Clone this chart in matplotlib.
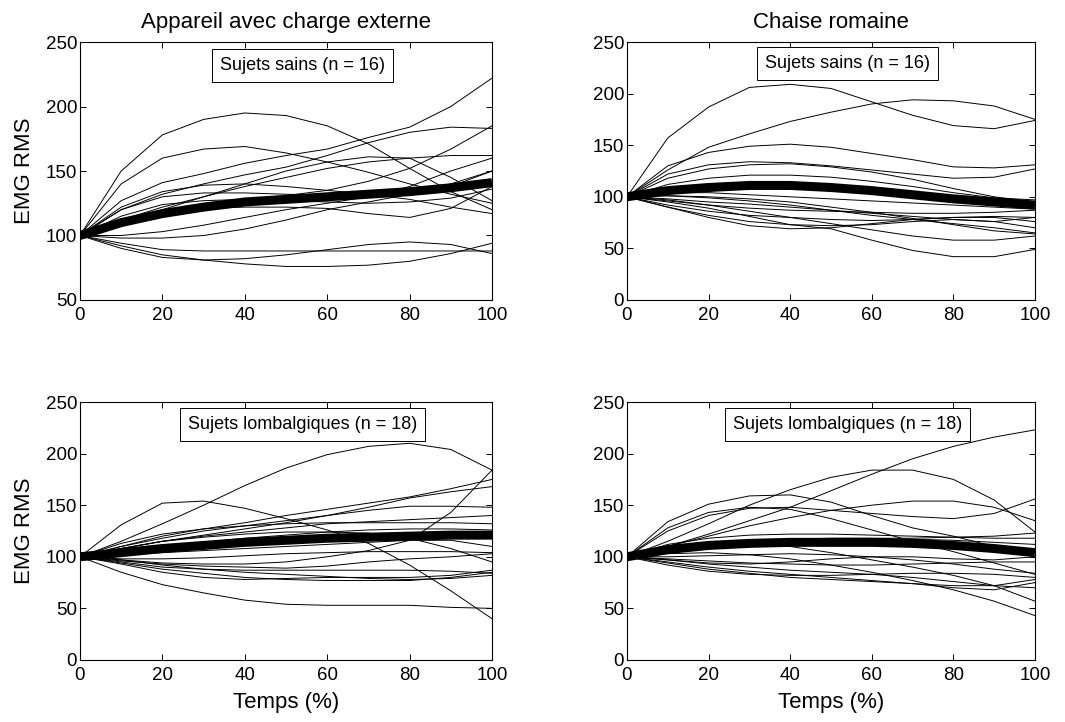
import matplotlib.pyplot as plt

plt.rcParams['font.family'] = ['Liberation Sans', 'DejaVu Sans']

temps = [0, 10, 20, 30, 40, 50, 60, 70, 80, 90, 100]

# appareil avec charge externe, sujets sains
charge_sains = [
    [100, 150, 178, 190, 195, 193, 185, 171, 152, 134, 120],
    [100, 140, 160, 167, 169, 164, 157, 149, 140, 132, 125],
    [100, 127, 141, 148, 156, 162, 167, 176, 184, 200, 222],
    [100, 120, 132, 140, 147, 153, 162, 172, 180, 184, 183],
    [100, 108, 115, 122, 128, 131, 135, 142, 152, 167, 185],
    [100, 112, 122, 130, 138, 145, 152, 157, 160, 162, 162],
    [100, 110, 120, 130, 140, 150, 157, 161, 160, 145, 127],
    [100, 122, 134, 139, 140, 138, 135, 132, 128, 122, 117],
    [100, 120, 130, 133, 133, 132, 131, 130, 132, 138, 150],
    [100, 110, 118, 121, 122, 122, 121, 117, 114, 121, 138],
    [100, 100, 103, 108, 114, 120, 125, 130, 138, 150, 160],
    [100, 98, 98, 100, 105, 112, 120, 126, 132, 140, 150],
    [100, 94, 89, 88, 88, 88, 88, 88, 88, 88, 88],
    [100, 90, 83, 81, 82, 85, 89, 93, 95, 93, 86],
    [100, 92, 85, 81, 78, 76, 76, 77, 80, 86, 94],
    [100, 115, 124, 127, 128, 127, 126, 125, 126, 129, 136],
]
charge_sains_moy = [100, 110, 117, 122, 126, 128, 130, 132, 134, 137, 141]

# chaise romaine, sujets sains
chaise_sains = [
    [100, 157, 187, 206, 209, 205, 192, 179, 169, 166, 174],
    [100, 126, 148, 161, 173, 182, 190, 194, 193, 188, 175],
    [100, 130, 143, 149, 151, 148, 142, 136, 129, 128, 131],
    [100, 122, 131, 134, 133, 130, 126, 122, 118, 119, 127],
    [100, 118, 127, 131, 132, 129, 124, 117, 108, 100, 95],
    [100, 112, 118, 121, 121, 119, 115, 110, 104, 99, 97],
    [100, 104, 104, 102, 100, 98, 96, 94, 92, 90, 88],
    [100, 95, 89, 81, 73, 69, 58, 48, 42, 42, 49],
    [100, 101, 100, 98, 95, 90, 85, 79, 73, 67, 64],
    [100, 97, 92, 86, 80, 74, 68, 62, 58, 58, 62],
    [100, 90, 82, 76, 73, 72, 73, 76, 78, 76, 70],
    [100, 92, 86, 82, 80, 78, 77, 78, 80, 80, 76],
    [100, 90, 80, 72, 69, 70, 74, 78, 80, 81, 80],
    [100, 96, 92, 89, 87, 86, 85, 84, 84, 85, 87],
    [100, 98, 95, 93, 90, 87, 84, 81, 78, 76, 80],
    [100, 101, 99, 96, 92, 87, 82, 78, 74, 70, 65],
]
chaise_sains_moy = [100, 106, 109, 111, 111, 109, 106, 102, 98, 95, 92]

# appareil avec charge externe, sujets lombalgiques
charge_lomb = [
    [100, 115, 132, 150, 169, 186, 199, 207, 210, 204, 184],
    [100, 131, 152, 154, 147, 137, 126, 113, 92, 67, 40],
    [100, 97, 94, 93, 93, 95, 100, 106, 116, 143, 184],
    [100, 110, 120, 127, 133, 140, 146, 152, 158, 166, 175],
    [100, 108, 115, 121, 127, 133, 140, 148, 157, 163, 168],
    [100, 110, 118, 125, 130, 135, 140, 145, 149, 149, 148],
    [100, 108, 115, 120, 124, 128, 132, 134, 136, 138, 140],
    [100, 113, 122, 127, 130, 132, 133, 133, 133, 133, 132],
    [100, 105, 110, 114, 118, 121, 124, 126, 127, 127, 126],
    [100, 108, 115, 119, 122, 124, 124, 123, 118, 108, 95],
    [100, 98, 98, 99, 101, 103, 104, 105, 105, 105, 104],
    [100, 96, 93, 91, 90, 89, 91, 95, 98, 100, 103],
    [100, 95, 90, 88, 87, 87, 87, 87, 87, 86, 84],
    [100, 93, 85, 80, 78, 79, 80, 80, 80, 82, 87],
    [100, 97, 92, 88, 85, 83, 81, 79, 78, 79, 82],
    [100, 85, 73, 65, 58, 54, 53, 53, 53, 51, 50],
    [100, 94, 88, 84, 80, 78, 77, 77, 77, 80, 85],
    [100, 102, 104, 106, 108, 110, 112, 114, 116, 116, 110],
]
charge_lomb_moy = [100, 104, 108, 111, 114, 116, 118, 119, 120, 121, 121]

# chaise romaine, sujets lombalgiques
chaise_lomb = [
    [100, 110, 122, 135, 148, 164, 180, 195, 207, 216, 223],
    [100, 115, 132, 150, 165, 177, 184, 184, 175, 155, 124],
    [100, 134, 151, 159, 160, 153, 140, 128, 120, 110, 100],
    [100, 128, 143, 148, 146, 137, 126, 115, 105, 94, 83],
    [100, 110, 120, 130, 138, 145, 150, 154, 154, 148, 135],
    [100, 125, 140, 147, 148, 145, 142, 139, 137, 142, 156],
    [100, 112, 118, 121, 122, 122, 121, 120, 119, 118, 118],
    [100, 108, 112, 115, 117, 118, 118, 118, 119, 120, 123],
    [100, 105, 109, 112, 114, 116, 117, 117, 116, 114, 112],
    [100, 108, 113, 113, 110, 104, 97, 90, 82, 72, 57],
    [100, 103, 104, 102, 98, 92, 85, 77, 68, 57, 43],
    [100, 97, 93, 90, 87, 85, 83, 80, 76, 72, 70],
    [100, 95, 90, 86, 83, 80, 77, 74, 70, 68, 75],
    [100, 92, 86, 83, 82, 82, 83, 84, 84, 83, 80],
    [100, 97, 94, 93, 95, 98, 100, 100, 98, 97, 100],
    [100, 100, 101, 102, 103, 102, 100, 97, 93, 88, 84],
    [100, 94, 88, 84, 80, 78, 76, 74, 72, 72, 78],
    [100, 98, 96, 94, 93, 92, 92, 93, 94, 95, 95],
]
chaise_lomb_moy = [100, 107, 111, 113, 114, 114, 114, 113, 111, 108, 104]

panels = [
    (charge_sains, charge_sains_moy, 'Sujets sains (n = 16)', (50, 250), [50, 100, 150, 200, 250], 232),
    (chaise_sains, chaise_sains_moy, 'Sujets sains (n = 16)', (0, 250), [0, 50, 100, 150, 200, 250], 229),
    (charge_lomb, charge_lomb_moy, 'Sujets lombalgiques (n = 18)', (0, 250), [0, 50, 100, 150, 200, 250], 228),
    (chaise_lomb, chaise_lomb_moy, 'Sujets lombalgiques (n = 18)', (0, 250), [0, 50, 100, 150, 200, 250], 228),
]
titres = ['Appareil avec charge externe', 'Chaise romaine']

fig = plt.figure(figsize=(10.65, 7.22), dpi=100)
positions = [
    [0.0751, 0.5845, 0.3869, 0.3573],
    [0.5887, 0.5845, 0.3831, 0.3573],
    [0.0751, 0.0859, 0.3869, 0.3573],
    [0.5887, 0.0859, 0.3831, 0.3573],
]

for i, (courbes, moy, etiquette, ylim, yticks, ybox) in enumerate(panels):
    ax = fig.add_axes(positions[i])
    for c in courbes:
        ax.plot(temps, c, color='black', lw=0.7)
    ax.plot(temps, moy, color='black', lw=6.5, solid_capstyle='butt')
    ax.set_xlim(0, 100)
    ax.set_ylim(*ylim)
    ax.set_xticks([0, 20, 40, 60, 80, 100])
    ax.set_yticks(yticks)
    ax.tick_params(direction='in', top=True, right=True, length=4, width=0.7, labelsize=13.5)
    ax.tick_params(axis='y', pad=2)
    ax.tick_params(axis='x', pad=5)
    for s in ax.spines.values():
        s.set_linewidth(0.8)
    ax.text(54, ybox, etiquette, ha='center', va='center', fontsize=13,
            bbox=dict(boxstyle='square,pad=0.45', fc='white', ec='black', lw=0.7))
    if i < 2:
        ax.set_title(titres[i], fontsize=16, pad=10)
    if i % 2 == 0:
        ax.set_ylabel('EMG RMS', fontsize=16, labelpad=8)
    if i >= 2:
        ax.set_xlabel('Temps (%)', fontsize=16, labelpad=6)

plt.savefig('out.png', dpi=100)
